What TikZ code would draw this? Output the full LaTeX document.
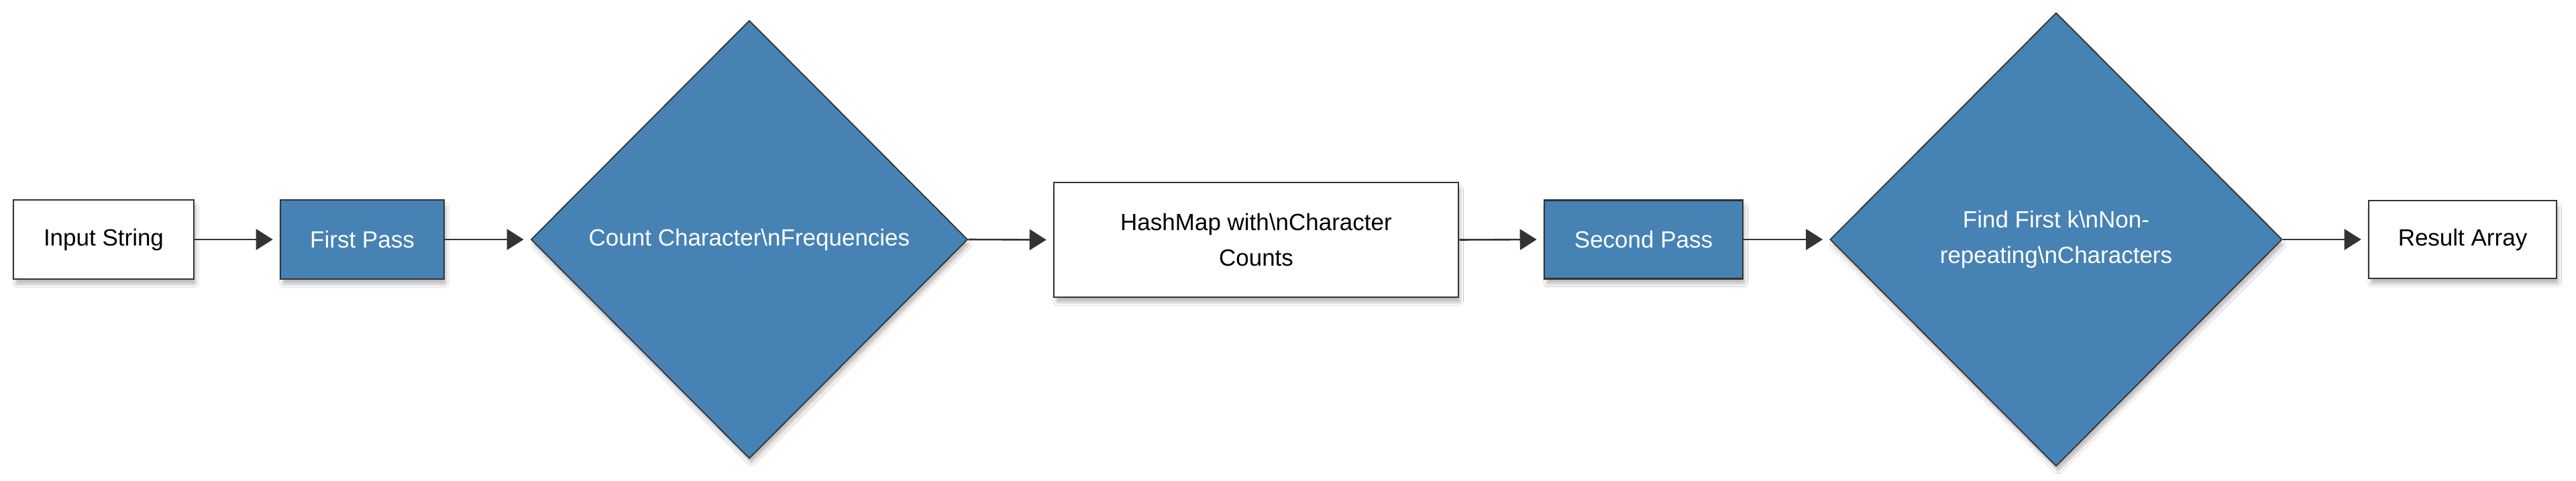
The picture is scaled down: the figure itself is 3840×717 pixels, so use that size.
\documentclass[tikz,border=0pt]{standalone}
\usepackage{fontspec}
\setmainfont{Liberation Sans}
\usetikzlibrary{shapes.geometric,arrows.meta,shadows.blur}
\definecolor{flowblue}{HTML}{4682B4}
\definecolor{edgegray}{HTML}{333333}
\tikzset{
  lbl/.style={font=\fontsize{17.5}{26.5}\selectfont, align=center},
  shade/.style={blur shadow={shadow blur steps=10, shadow xshift=1.5pt, shadow yshift=-4pt, shadow opacity=25, shadow blur extra rounding=1pt}},
  whitebox/.style={lbl, rectangle, draw=edgegray, line width=1.3pt, fill=white, text=black, inner sep=0pt, shade},
  bluebox/.style={lbl, rectangle, draw=edgegray, line width=1.3pt, fill=flowblue, text=white, inner sep=0pt, shade},
  bluediam/.style={lbl, diamond, draw=edgegray, line width=0.9pt, fill=flowblue, text=white, inner sep=0pt, shade},
  flow/.style={draw=edgegray, line width=1.3pt, -{Triangle[length=12.5pt,width=15.5pt]}, shorten >=5pt}
}
\begin{document}
\begin{tikzpicture}[x=0.5pt,y=-0.5pt]
\useasboundingbox[fill=white] (0,0) rectangle (3840,717);
\node[whitebox, minimum width=134.5pt, minimum height=59pt] (input) at (154.5,357) {Input String};
\node[bluebox, minimum width=122pt, minimum height=59pt] (first) at (540,357) {First Pass};
\node[bluediam, minimum width=325.5pt, minimum height=326.5pt] (count) at (1117,357) {Count Character\textbackslash nFrequencies};
\node[whitebox, minimum width=301.5pt, minimum height=85.5pt] (hash) at (1872.5,357.5) {HashMap with\textbackslash nCharacter\\Counts};
\node[bluebox, minimum width=148pt, minimum height=58.5pt] (second) at (2450,357) {Second Pass};
\node[bluediam, minimum width=337pt, minimum height=338pt] (find) at (3065,357) {Find First k\textbackslash nNon-\\repeating\textbackslash nCharacters};
\node[whitebox, minimum width=140pt, minimum height=58pt] (result) at (3671,357) {Result Array};
\draw[flow] (input.east) -- (first.west);
\draw[flow] (first.east) -- (count.west);
\draw[flow] (count.east) -- (hash.west);
\draw[flow] (hash.east) -- (second.west);
\draw[flow] (second.east) -- (find.west);
\draw[flow] (find.east) -- (result.west);
\end{tikzpicture}
\end{document}
